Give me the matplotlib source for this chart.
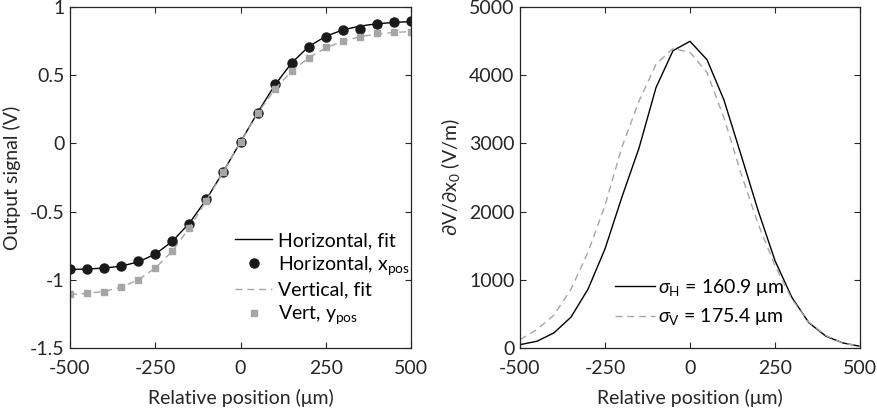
import matplotlib
matplotlib.use("Agg")
import matplotlib.pyplot as plt
import numpy as np
from matplotlib.ticker import FuncFormatter

plt.rcParams['font.family'] = ['Lato', 'DejaVu Sans']
plt.rcParams['mathtext.fontset'] = 'custom'
plt.rcParams['mathtext.rm'] = 'Lato'
plt.rcParams['mathtext.it'] = 'Lato:italic'
plt.rcParams['axes.unicode_minus'] = False

# ---------------- data ----------------
position = [-500, -450, -400, -350, -300, -250, -200, -150, -100, -50, 0,
            50, 100, 150, 200, 250, 300, 350, 400, 450, 500]

horiz_pos = [-0.923, -0.920, -0.916, -0.901, -0.865, -0.809, -0.718, -0.589,
             -0.408, -0.207, 0.012, 0.225, 0.433, 0.592, 0.709, 0.780,
             0.830, 0.836, 0.873, 0.887, 0.897]
horiz_fit = [-0.925, -0.921, -0.914, -0.900, -0.869, -0.812, -0.718, -0.585,
             -0.410, -0.205, 0.010, 0.225, 0.425, 0.590, 0.710, 0.785,
             0.832, 0.860, 0.877, 0.887, 0.893]
vert_pos = [-1.104, -1.099, -1.087, -1.055, -1.000, -0.916, -0.789, -0.622,
            -0.420, -0.210, 0.010, 0.225, 0.397, 0.531, 0.624, 0.705,
            0.753, 0.778, 0.807, 0.819, 0.819]
vert_fit = [-1.108, -1.100, -1.085, -1.055, -1.000, -0.915, -0.790, -0.620,
            -0.420, -0.205, 0.010, 0.220, 0.395, 0.530, 0.628, 0.700,
            0.750, 0.782, 0.802, 0.813, 0.820]

deriv_h = [49, 99, 222, 453, 862, 1453, 2217, 2931, 3818, 4360, 4497,
           4227, 3635, 2833, 2020, 1281, 739, 369, 172, 74, 25]
deriv_v = [123, 271, 483, 862, 1404, 2090, 2950, 3620, 4160, 4394, 4335,
           4039, 3374, 2562, 1823, 1207, 714, 379, 182, 74, 25]

xticks = [-500, -250, 0, 250, 500]
left_yticks = [-1.5, -1, -0.5, 0, 0.5, 1]
right_yticks = [0, 1000, 2000, 3000, 4000, 5000]

sigma_h_label = r'$\sigma_{\rm H}$ = 160.9 μm'
sigma_v_label = r'$\sigma_{\rm V}$ = 175.4 μm'

# ---------------- style ----------------
dark = '#262626'
gray = '#a6a6a6'
fs = 14

fig = plt.figure(figsize=(8.78, 4.13), dpi=100)
ax1 = fig.add_axes([70/878, 1-348/413, 341/878, 341/413])
ax2 = fig.add_axes([520/878, 1-348/413, 340/878, 341/413])

def style(ax):
    for s in ax.spines.values():
        s.set_color(dark)
        s.set_linewidth(0.9)
    ax.tick_params(direction='in', top=True, right=True, length=4,
                   width=0.8, color=dark, labelsize=fs, labelcolor=dark)
    ax.tick_params(axis='x', pad=9)
    ax.tick_params(axis='y', pad=4)

fmt = FuncFormatter(lambda v, p: ('%g' % v))

# Left panel
ax1.plot(position, horiz_fit, color='black', lw=1.0, label='Horizontal, fit')
ax1.plot(position, horiz_pos, 'o', color='#1a1a1a', ms=6.5, mec='#1a1a1a',
         label=r'Horizontal, x$_{\rm pos}$')
ax1.plot(position, vert_fit, color=gray, lw=1.0, dashes=(5, 3.5),
         label='Vertical, fit')
ax1.plot(position, vert_pos, 's', color=gray, ms=5, mec=gray,
         label=r'Vert, y$_{\rm pos}$')
ax1.set_xlim(-500, 500)
ax1.set_ylim(-1.5, 1)
ax1.set_xticks(xticks)
ax1.set_yticks(left_yticks)
ax1.yaxis.set_major_formatter(fmt)
ax1.set_xlabel('Relative position (μm)', fontsize=fs, color=dark, labelpad=8)
ax1.set_ylabel('Output signal (V)', fontsize=fs, color=dark, labelpad=6)
style(ax1)
ax1.legend(loc='center left', bbox_to_anchor=(0.462, 0.202), frameon=False,
           fontsize=fs, handlelength=1.9, handletextpad=0.3,
           labelspacing=0.25, borderaxespad=0)

# Right panel
ax2.plot(position, deriv_h, color='black', lw=1.0, label=sigma_h_label)
ax2.plot(position, deriv_v, color=gray, lw=1.0, dashes=(5, 3.5),
         label=sigma_v_label)
ax2.set_xlim(-500, 500)
ax2.set_ylim(0, 5000)
ax2.set_xticks(xticks)
ax2.set_yticks(right_yticks)
ax2.set_xlabel('Relative position (μm)', fontsize=fs, color=dark, labelpad=8)
ax2.set_ylabel(r'$\partial$V/$\partial$x$_0$ (V/m)', fontsize=fs, color=dark,
               labelpad=5)
style(ax2)
ax2.legend(loc='center left', bbox_to_anchor=(0.256, 0.135), frameon=False,
           fontsize=fs, handlelength=2.06, handletextpad=0.15,
           labelspacing=0.45, borderaxespad=0)

fig.savefig('out.png', dpi=100)
